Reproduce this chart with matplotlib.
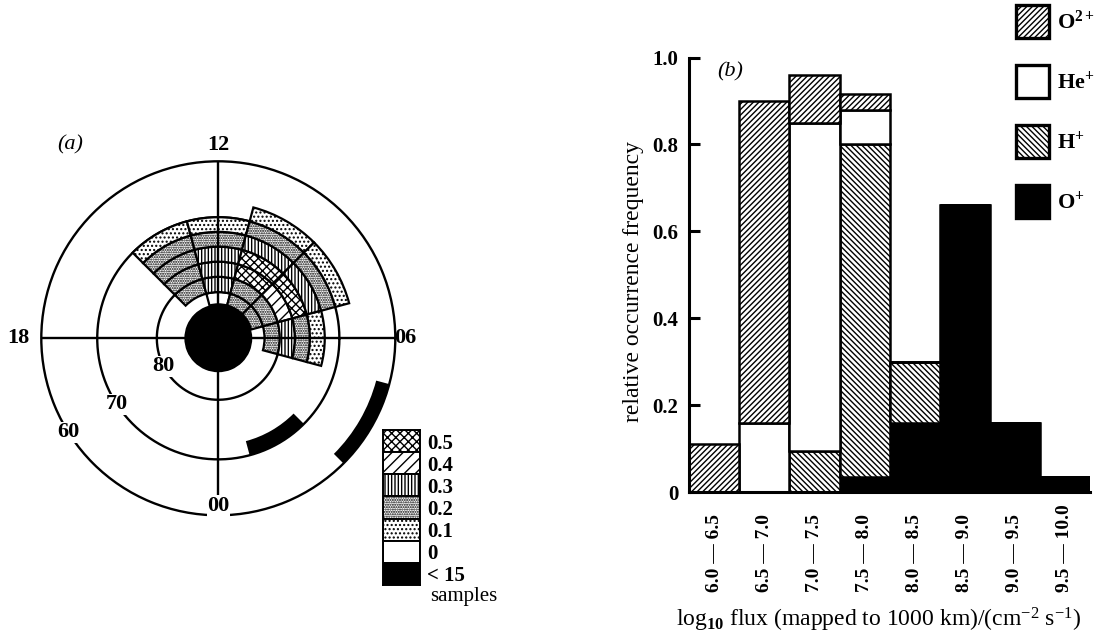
import numpy as np
import matplotlib.pyplot as plt
from matplotlib.patches import Patch

plt.rcParams['font.family'] = ['Liberation Serif', 'DejaVu Serif']
plt.rcParams['mathtext.fontset'] = 'custom'
plt.rcParams['mathtext.rm'] = 'Liberation Serif'
plt.rcParams['mathtext.it'] = 'Liberation Serif:italic'
plt.rcParams['mathtext.bf'] = 'Liberation Serif:bold'
plt.rcParams['hatch.linewidth'] = 1.0

# ---- panel (a): occurrence map in MLT / invariant latitude
ring_lat = [84.5, 82.5, 80.0, 77.5, 75.0, 72.5, 70.0, 67.5]   # ring edges, pole outwards
sector_mlt = [(13, 15), (11, 13), (9, 11), (7, 9), (5, 7)]
# one value per ring (inner -> outer), None = no cell
sector_vals = [
    [None, 0.2, 0.2, 0.2, 0.2, 0.1, None],
    [0.0, 0.3, 0.3, 0.3, 0.2, 0.1, None],
    [0.2, 0.2, 0.5, 0.5, 0.3, 0.2, 0.1],
    [0.2, 0.2, 0.4, 0.5, 0.3, 0.2, 0.1],
    [None, 0.2, 0.3, 0.2, 0.1, None, None],
]
# (mlt from, mlt to, lat low, lat high) with < 15 samples
few_samples = [(1, 3, 70.0, 72.5), (3, 5, 60.0, 62.5)]
pole_lat = 84.5
lat_circles = [80, 70]
key_labels = ['0.5', '0.4', '0.3', '0.2', '0.1', '0', '< 15']
key_vals = [0.5, 0.4, 0.3, 0.2, 0.1, 0.0, -1]

# ---- panel (b): ion composition vs flux
bin_left = [6.0, 6.5, 7.0, 7.5, 8.0, 8.5, 9.0, 9.5]
bin_names = ['6.0 — 6.5', '6.5 — 7.0', '7.0 — 7.5', '7.5 — 8.0',
             '8.0 — 8.5', '8.5 — 9.0', '9.0 — 9.5', '9.5 — 10.0']
o_plus = [0, 0, 0, 0.035, 0.16, 0.66, 0.16, 0.035]
h_plus = [0, 0, 0.095, 0.765, 0.14, 0, 0, 0]
he_plus = [0, 0.16, 0.755, 0.08, 0, 0, 0, 0]
o2_plus = [0.11, 0.74, 0.11, 0.035, 0, 0, 0, 0]
ion_names = [r'$\mathbf{O^{2+}}$', r'$\mathbf{He^{+}}$', r'$\mathbf{H^{+}}$', r'$\mathbf{O^{+}}$']

hatches = {0.5: 'xxxx', 0.4: '///', 0.3: '|||||', 0.2: '.......', 0.1: '....', 0.0: ''}


def lat_to_r(lat):
    return np.cos(np.radians(lat))


def mlt_to_theta(mlt):
    return np.radians((np.asarray(mlt) - 6) * 15)


def cell_style(v):
    if v < 0:
        return dict(facecolor='black', hatch='')
    return dict(facecolor='white', hatch=hatches[v])


W, H = 1102, 638
fig = plt.figure(figsize=(W / 100, H / 100), dpi=100)

# polar map, centre (218, 338), outer radius 177 px
cx, cy, R = 218.3, 338.3, 177
axp = fig.add_axes([(cx - R) / W, (H - cy - R) / H, 2 * R / W, 2 * R / H], projection='polar')
axp.set_ylim(0, lat_to_r(60))
axp.set_xticks([])
axp.set_yticks([])
axp.grid(False)
axp.spines['polar'].set_linewidth(1.7)

th = np.linspace(0, 2 * np.pi, 400)
for lat in lat_circles:
    axp.plot(th, np.full_like(th, lat_to_r(lat)), color='black', lw=1.7, zorder=2)

for (m0, m1), vals in zip(sector_mlt, sector_vals):
    t0, t1 = mlt_to_theta(m0), mlt_to_theta(m1)
    for i, v in enumerate(vals):
        if v is None:
            continue
        r_in, r_out = lat_to_r(ring_lat[i]), lat_to_r(ring_lat[i + 1])
        axp.bar((t0 + t1) / 2, r_out - r_in, width=abs(t1 - t0), bottom=r_in,
                edgecolor='black', lw=1.6, zorder=3, **cell_style(v))

for m0, m1, lo, hi in few_samples:
    t0, t1 = mlt_to_theta(m0), mlt_to_theta(m1)
    axp.bar((t0 + t1) / 2, lat_to_r(lo) - lat_to_r(hi), width=abs(t1 - t0),
            bottom=lat_to_r(hi), color='black', lw=0, zorder=3)

axp.bar(0, lat_to_r(pole_lat), width=2 * np.pi, bottom=0, color='black', lw=0, zorder=4)

for t in [0, 90, 180, 270]:
    axp.plot([np.radians(t)] * 2, [0, lat_to_r(60)], color='black', lw=1.7, zorder=5)

num_font = dict(fontsize=16, fontweight='bold', ha='center', va='center')
axp.text(np.radians(90), 0.545, '12', **num_font)
axp.text(np.radians(0), 0.528, '06', **num_font)
axp.text(np.radians(180), 0.565, '18', **num_font)
axp.text(np.radians(270), 0.474, '00', zorder=6,
         bbox=dict(facecolor='white', edgecolor='none', pad=0.5), **num_font)
for lat, ang in [(80, 207), (70, 213), (60, 212)]:
    axp.text(np.radians(ang), lat_to_r(lat), str(lat), zorder=6,
             bbox=dict(facecolor='white', edgecolor='none', pad=0.3), **num_font)
fig.text(70 / W, 1 - 145 / H, '(a)', fontsize=16, style='italic', ha='center', va='center')

# key for panel (a)
axk = fig.add_axes([383 / W, (H - 585) / H, 37 / W, 155 / H])
nk = len(key_vals)
for i, v in enumerate(key_vals):
    axk.bar(0, 1, width=1, bottom=nk - 1 - i, align='edge', edgecolor='black', lw=1.4,
            **cell_style(v))
axk.set_xlim(0, 1)
axk.set_ylim(0, nk)
axk.set_xticks([])
axk.set_yticks(np.arange(nk) + 0.5)
axk.set_yticklabels(key_labels[::-1], fontsize=15, fontweight='bold')
axk.yaxis.tick_right()
axk.tick_params(axis='y', length=0, pad=5)
for s in axk.spines.values():
    s.set_linewidth(1.4)
fig.text(430 / W, 1 - 596 / H, 'samples', fontsize=15, ha='left', va='center')

# ---- panel (b)
y0, y1 = 492.3, 57.5
axb = fig.add_axes([689.3 / W, (H - y0) / H, (1090 - 689.3) / W, (y0 - y1) / H])
bottom = np.zeros(len(bin_left))
ion_style = [
    ('black', '', o_plus),
    ('white', '\\\\\\\\\\\\', h_plus),
    ('white', '', he_plus),
    ('white', '//////', o2_plus),
]
for fc, hatch, vals in ion_style:
    vals = np.array(vals)
    axb.bar(bin_left, vals, width=0.5, bottom=bottom, align='edge', facecolor=fc,
            edgecolor='black', hatch=hatch, lw=1.8)
    bottom += vals

axb.set_xlim(6.0, 10.0)
axb.set_ylim(0, 1.0)
axb.spines['top'].set_visible(False)
axb.spines['right'].set_visible(False)
axb.spines['left'].set_linewidth(2.2)
axb.spines['bottom'].set_linewidth(2.2)
axb.set_xticks([])
axb.set_yticks([0, 0.2, 0.4, 0.6, 0.8, 1.0])
axb.set_yticklabels(['0', '0.2', '0.4', '0.6', '0.8', '1.0'], fontsize=15, fontweight='bold')
axb.tick_params(axis='y', direction='in', length=8, width=2.2, pad=8)

for x, name in zip(bin_left, bin_names):
    axb.text(x + 0.25, (y0 - 592) / (y0 - y1), name, rotation=90, ha='center', va='bottom',
             fontsize=14, fontweight='bold', transform=axb.get_xaxis_transform())

axb.text((879 - 689.3) / 400.7, (y0 - 620) / (y0 - y1),
         r'log$_{\mathbf{10}}$ flux (mapped to 1000 km)/(cm$^{-2}$ s$^{-1}$)',
         fontsize=17, ha='center', va='center', transform=axb.transAxes)
axb.text((633 - 689.3) / 400.7, (y0 - 282) / (y0 - y1), 'relative occurrence frequency',
         fontsize=17, rotation=90, ha='center', va='center', transform=axb.transAxes)
axb.text((730 - 689.3) / 400.7, (y0 - 72) / (y0 - y1), '(b)', fontsize=16, style='italic',
         ha='center', va='center', transform=axb.transAxes)

handles = [
    Patch(facecolor='white', edgecolor='black', hatch='//////', lw=2.4),
    Patch(facecolor='white', edgecolor='black', lw=2.4),
    Patch(facecolor='white', edgecolor='black', hatch='\\\\\\\\\\\\', lw=2.4),
    Patch(facecolor='black', edgecolor='black', lw=2.4),
]
fig.legend(handles, ion_names, loc='upper left', bbox_to_anchor=(1007 / W, 1 + 4 / H),
           frameon=False, fontsize=16, handlelength=1.5, handleheight=1.9,
           labelspacing=1.22, handletextpad=0.35, borderaxespad=0)

fig.savefig('out.png', dpi=100)
